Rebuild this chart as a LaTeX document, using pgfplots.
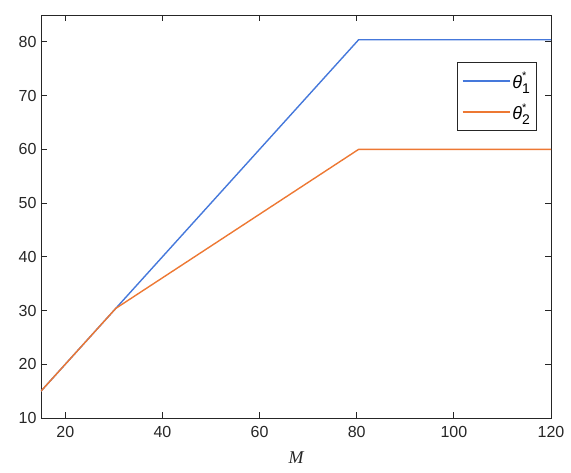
\documentclass[border=0pt]{standalone}
\usepackage{pgfplots}
\pgfplotsset{compat=1.18}
\usepackage{fontspec}
\setmainfont{Liberation Sans}
\newfontfamily\serif{Liberation Serif}
\definecolor{mblue}{rgb}{0.27,0.47,0.86}
\definecolor{morange}{rgb}{0.93,0.47,0.2}
\definecolor{maxis}{rgb}{0.15,0.15,0.15}
\newcommand{\thst}[1]{\textit{θ}\rlap{\raisebox{0.85ex}{\fontsize{11}{12}\selectfont*}}\raisebox{-0.6ex}{\fontsize{14}{15}\selectfont #1}}
\begin{document}
\begin{tikzpicture}
\begin{axis}[
  width=510pt, height=403pt, scale only axis,
  xmin=15, xmax=120, ymin=10, ymax=85,
  xtick={20,40,60,80,100,120}, ytick={10,20,30,40,50,60,70,80},
  tick align=inside, tick pos=both,
  major tick length=6pt,
  axis line style={maxis, line width=0.8pt},
  every tick/.style={maxis, line width=0.8pt},
  tick label style={font=\fontsize{16}{18}\selectfont, text=maxis},
  xticklabel style={yshift=-5pt},
  yticklabel style={xshift=-1pt},
  /pgf/number format/assume math mode=true,
  xlabel={{\serif\itshape M}},
  xlabel style={at={(axis description cs:0.5,0)}, anchor=center, yshift=-40pt,
    font=\fontsize{18}{20}\selectfont, text=maxis},
  legend style={at={(rel axis cs:0.9706,0.883)}, anchor=north east,
    font=\fontsize{18}{20}\selectfont, name=leg,
    inner xsep=4pt, inner ysep=8pt, row sep=10pt},
  every axis legend/.append style={draw=none},
  legend cell align=left,
  legend image code/.code={\draw[line width=1.4pt, #1] (0pt,0pt) -- (47pt,0pt);},
]
\addplot[mblue, line width=1.4pt] coordinates {(15,15)(30.4,30.4)(80.4,80.4)(120,80.4)};
\addlegendentry{\thst{1}}
\addplot[morange, line width=1.4pt] coordinates {(15,15)(30.4,30.4)(80.4,60)(120,60)};
\addlegendentry{\thst{2}}
\coordinate (ll) at (rel axis cs:0,0);
\coordinate (ur) at (rel axis cs:1,1);
\end{axis}
\draw[maxis, line width=0.9pt] (leg.south west) rectangle (leg.north east);
\pgfresetboundingbox
\path ([shift={(-41pt,-55pt)}]ll) rectangle ([shift={(20pt,15pt)}]ur);
\end{tikzpicture}
\end{document}
